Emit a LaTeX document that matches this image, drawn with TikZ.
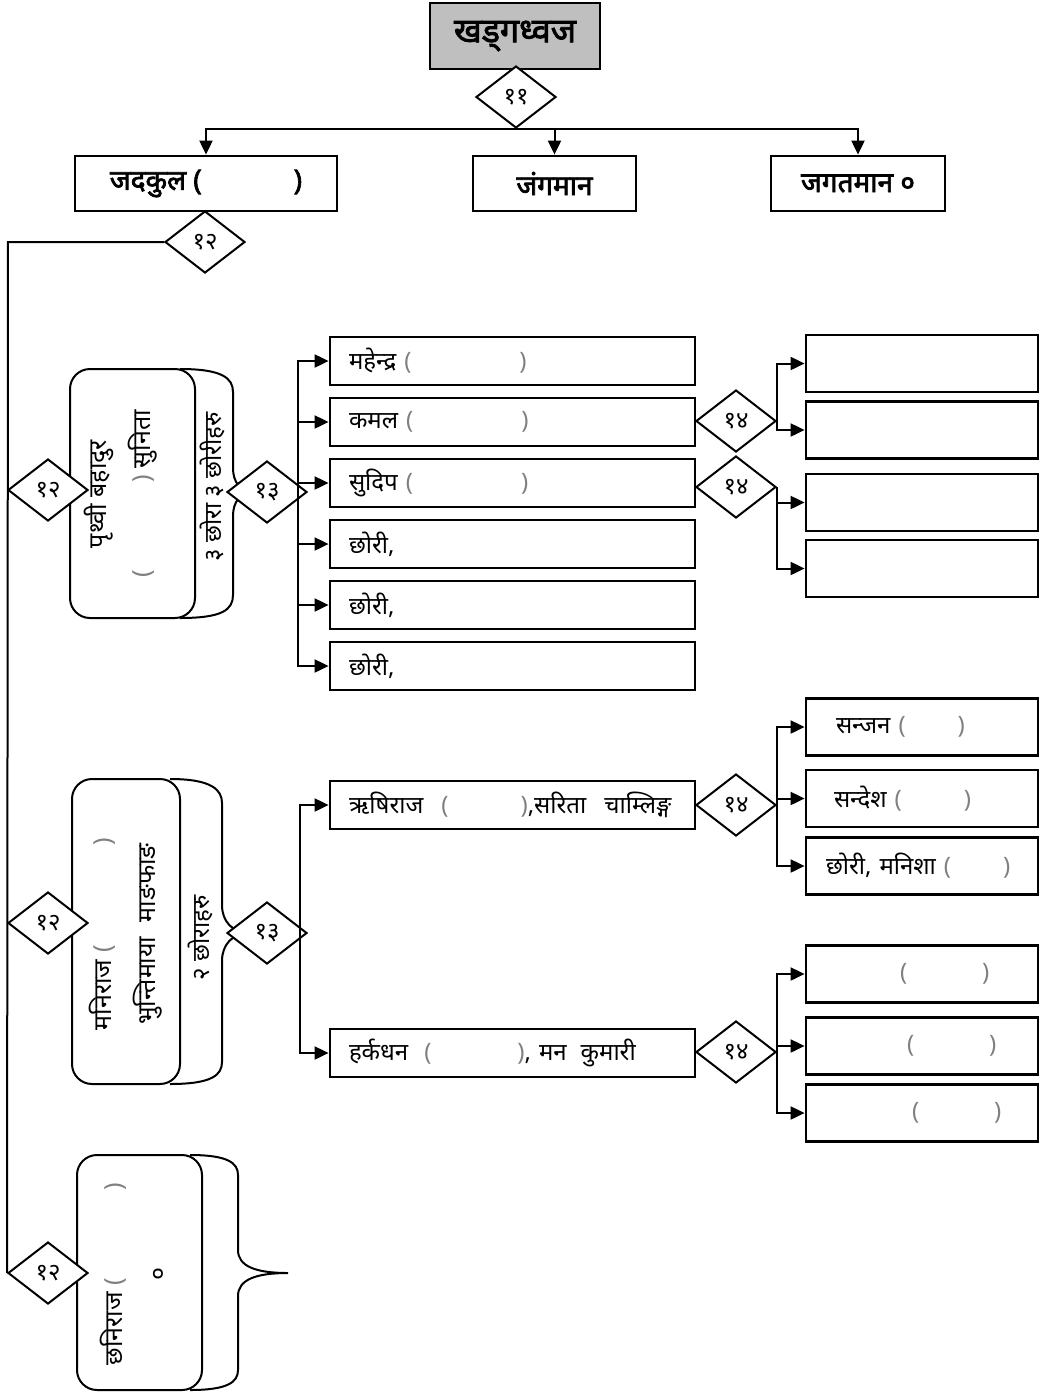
\documentclass[tikz,border=0pt]{standalone}
\usepackage{fontspec}
\newfontfamily\dev[Script=Devanagari]{Noto Sans}
\newfontfamily\devb[Script=Devanagari,FakeBold=2.5]{Noto Sans}
\usetikzlibrary{shapes.geometric,arrows.meta}
\newcommand{\gp}[1]{{\color{gray}(\hspace{#1})}}

\begin{document}
\begin{tikzpicture}[x=1pt, y=-1pt,
  hd/.style={draw, line width=2.8pt, minimum height=55pt, inner sep=2pt, font=\devb\fontsize{28}{31}\selectfont},
  dia/.style={diamond, draw, fill=white, line width=2pt, minimum width=80pt, minimum height=62pt, inner sep=0pt, font=\dev\fontsize{24}{26}\selectfont},
  kid/.style={draw, line width=2.8pt, minimum height=48pt, text width=327pt, inner xsep=19pt, align=left, font=\dev\fontsize{24}{27}\selectfont},
  gkid/.style={draw, line width=2.8pt, minimum height=57pt, text width=192pt, inner xsep=20pt, align=left, font=\dev\fontsize{24}{27}\selectfont},
  famfront/.style={draw, fill=white, rounded corners=20pt, line width=2pt},
  famback/.style={line width=2pt},
  sidetext/.style={rotate=90, align=center, font=\dev\fontsize{25}{44}\selectfont},
  link/.style={line width=2pt, -{Triangle[length=14pt,width=13pt]}}]
\useasboundingbox (0,0) rectangle (1051,1393);

% Top of the tree
\node[hd, fill=gray!50, minimum width=170pt, minimum height=66pt, font=\devb\fontsize{34}{38}\selectfont] (khadga) at (515,36) {खड्गध्वज};
\node[dia] (d11) at (516,97) {११};

\node[hd, minimum width=262pt] (jadakul) at (206,183.5) {जदकुल (\hspace{92pt})};
\node[hd, minimum width=163pt] (jangaman) at (554.5,183.5) {जंगमान};
\node[hd, minimum width=174pt] (jagatman) at (858,183.5) {जगतमान ०};

\draw[link] (d11.south) -| (jadakul.north);
\draw[link] (d11.south) -| (jangaman.north);
\draw[link] (d11.south) -| (jagatman.north);

\node[dia] (d12top) at (205,242) {१२};
\coordinate (spine) at (8,242);

% Family 1
\draw[famback] (180,369) .. controls (222,369) and (233,378) .. (233,392) -- (233,468)
  .. controls (233,482) and (240,492) .. (255,492) .. controls (240,492) and (233,502) .. (233,516)
  -- (233,595) .. controls (233,610) and (222,618) .. (180,618);
\node[famfront, minimum width=125pt, minimum height=249pt] (g1front) at (132.5,493.5) {};
\node[sidetext] (g1name) at (121,494) {पृथ्वी बहादुर\\\gp{88pt} सुनिता};
\node[sidetext, font=\dev\fontsize{24}{27}\selectfont] (g1kids) at (212,487) {३ छोरा ३ छोरीहरु};
\node[dia] (d12a) at (48,490) {१२};
\node[dia] (d13a) at (267,492) {१३};
\coordinate (bus1) at (298,492);

\node[kid] (mahendra) at (512.5,361) {महेन्द्र \gp{108pt}};
\node[kid] (kamal) at (512.5,422) {कमल \gp{108pt}};
\node[kid] (sudip) at (512.5,483) {सुदिप \gp{108pt}};
\node[kid] (chhori1) at (512.5,544) {छोरी,};
\node[kid] (chhori2) at (512.5,605) {छोरी,};
\node[kid] (chhori3) at (512.5,666) {छोरी,};

\foreach \k in {mahendra,kamal,sudip,chhori1,chhori2,chhori3}
  \draw[link] (bus1) |- (\k.west);

\node[dia] (d14a) at (736,421) {१४};
\node[dia] (d14b) at (736,487) {१४};
\node[gkid] (gA) at (922,363.5) {};
\node[gkid] (gB) at (922,430) {};
\node[gkid] (gC) at (922,502.5) {};
\node[gkid] (gD) at (922,568.5) {};
\draw[link] (d14a.east) |- (gA.west);
\draw[link] (d14a.east) |- (gB.west);
\draw[link] (d14b.east) |- (gC.west);
\draw[link] (d14b.east) |- (gD.west);

% Family 2
\draw[famback] (170,779) .. controls (212,779) and (222,790) .. (222,803) -- (222,905)
  .. controls (222,921) and (232,933) .. (250,933) .. controls (232,933) and (222,945) .. (222,961)
  -- (222,1062) .. controls (222,1075) and (212,1084) .. (170,1084);
\node[famfront, minimum width=108pt, minimum height=305pt] (g2front) at (126,931.5) {};
\node[sidetext] (g2name) at (126,934) {मनिराज \gp{100pt}\\भुन्तिमाया\hspace{8pt} माङफाङ};
\node[sidetext, font=\dev\fontsize{24}{27}\selectfont] (g2kids) at (200,938) {२ छोराहरु};
\node[dia] (d12b) at (48,923) {१२};
\node[dia] (d13b) at (267,933) {१३};
\coordinate (bus2) at (300,933);

\node[kid] (rishi) at (512.5,805) {ऋषिराज\hspace{10pt} \gp{72pt},सरिता\hspace{10pt} चाम्लिङ्ग};
\node[kid] (harka) at (512.5,1053) {हर्कधन\hspace{8pt} \gp{86pt}, मन\hspace{6pt} कुमारी};
\draw[link] (bus2) |- (rishi.west);
\draw[link] (bus2) |- (harka.west);

\node[dia] (d14c) at (736,805) {१४};
\node[dia] (d14d) at (736,1052) {१४};
\node[gkid] (sanjan) at (922,727) {\hspace*{10pt}सन्जन \gp{52pt}};
\node[gkid] (sandesh) at (922,798.5) {\hspace*{8pt}सन्देश \gp{62pt}};
\node[gkid] (manisha) at (922,866) {छोरी, मनिशा \gp{52pt}};
\node[gkid] (blank1) at (922,974) {\hspace*{74pt}\gp{75pt}};
\node[gkid] (blank2) at (922,1046) {\hspace*{81pt}\gp{75pt}};
\node[gkid] (blank3) at (922,1113) {\hspace*{86pt}\gp{75pt}};
\draw[link] (d14c.east) |- (sanjan.west);
\draw[link] (d14c.east) |- (sandesh.west);
\draw[link] (d14c.east) |- (manisha.west);
\draw[link] (d14d.east) |- (blank1.west);
\draw[link] (d14d.east) |- (blank2.west);
\draw[link] (d14d.east) |- (blank3.west);

% Family 3
\draw[famback] (190,1155) .. controls (228,1155) and (238,1163) .. (238,1175) -- (238,1250)
  .. controls (238,1266) and (255,1273) .. (288,1273) .. controls (255,1273) and (238,1280) .. (238,1296)
  -- (238,1370) .. controls (238,1382) and (228,1390) .. (190,1390);
\node[famfront, minimum width=125pt, minimum height=235pt] (g3front) at (139.5,1272.5) {};
\node[sidetext] (g3name) at (133,1274) {छनिराज \gp{88pt}\\०};
\node[dia] (d12c) at (48,1273) {१२};

% Left spine
\draw[line width=2pt] (d12top.west) -- (spine) -- (d12c.west);
\end{tikzpicture}
\end{document}
